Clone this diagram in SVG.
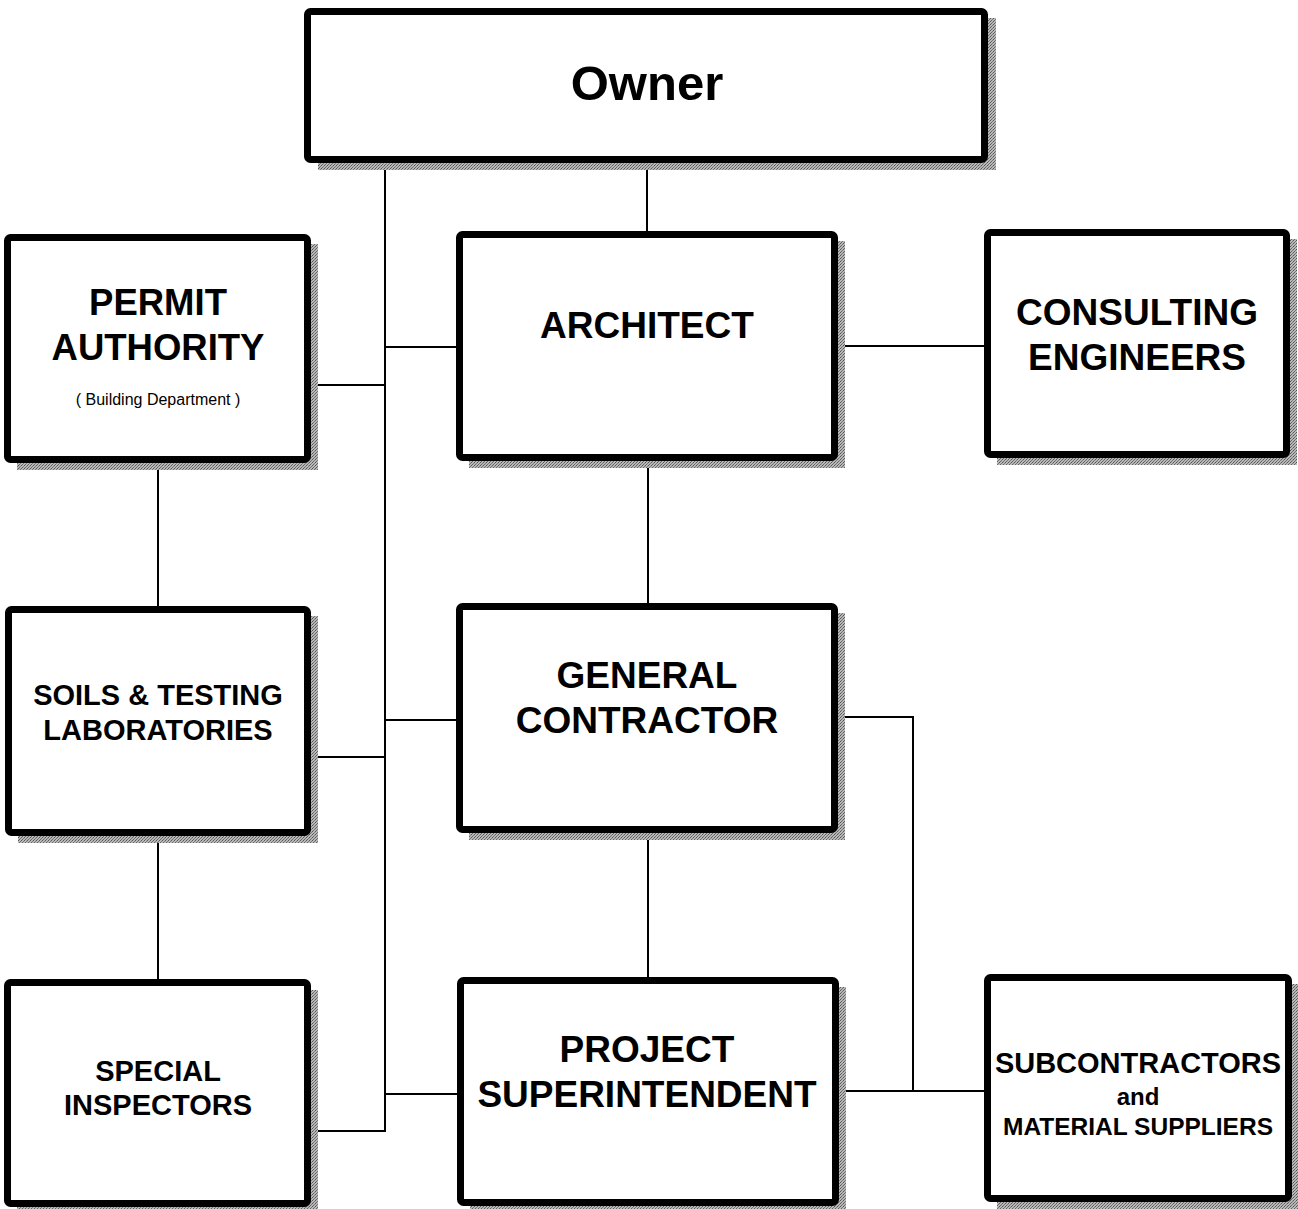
<svg xmlns="http://www.w3.org/2000/svg" width="1298" height="1209" viewBox="0 0 1298 1209">
<defs>
<pattern id="dots" width="3" height="3" patternUnits="userSpaceOnUse">
<rect width="3" height="3" fill="#b8b8b8"/>
<rect width="1" height="1" fill="#555"/>
<rect x="2" y="1" width="1" height="1" fill="#777"/>
<rect x="1" y="2" width="1" height="1" fill="#666"/>
</pattern>
</defs>
<style>
.box{fill:#fff;stroke:#000;stroke-width:7;}
.sh{fill:url(#dots);}
.t{font-family:"Liberation Sans",Arial,sans-serif;font-weight:bold;fill:#000;text-anchor:middle;}
.s{font-family:"Liberation Sans",Arial,sans-serif;fill:#000;text-anchor:middle;}
.c{stroke:#000;stroke-width:2;fill:none;}
</style>
<rect width="1298" height="1209" fill="#fff"/>
<g id="connectors">
<line class="c" x1="647" y1="160" x2="647" y2="232"/>
<line class="c" x1="385" y1="160" x2="385" y2="1132"/>
<line class="c" x1="385" y1="347" x2="457" y2="347"/>
<line class="c" x1="311" y1="385" x2="385" y2="385"/>
<line class="c" x1="838" y1="346" x2="984" y2="346"/>
<line class="c" x1="648" y1="460" x2="648" y2="604"/>
<line class="c" x1="158" y1="462" x2="158" y2="607"/>
<line class="c" x1="158" y1="835" x2="158" y2="982"/>
<line class="c" x1="385" y1="720" x2="457" y2="720"/>
<line class="c" x1="311" y1="757" x2="385" y2="757"/>
<line class="c" x1="648" y1="832" x2="648" y2="978"/>
<line class="c" x1="385" y1="1094" x2="457" y2="1094"/>
<line class="c" x1="311" y1="1131" x2="385" y2="1131"/>
<polyline class="c" points="838,717 913,717 913,1091"/>
<line class="c" x1="838" y1="1091" x2="985" y2="1091"/>
</g>
<g id="owner">
<rect class="sh" x="318" y="18" width="678" height="152"/>
<rect class="box" x="307.5" y="11.5" width="677" height="148" rx="3"/>
<text class="t" x="647" y="100" font-size="49">Owner</text>
</g>
<g id="permit">
<rect class="sh" x="17" y="244" width="301" height="226"/>
<rect class="box" x="7.5" y="237.5" width="300" height="222" rx="3"/>
<text class="t" x="158" y="315" font-size="36.5">PERMIT</text>
<text class="t" x="158" y="360" font-size="36.5">AUTHORITY</text>
<text class="s" x="158" y="405" font-size="16">( Building Department )</text>
</g>
<g id="architect">
<rect class="sh" x="469" y="241" width="376" height="227"/>
<rect class="box" x="459.5" y="234.5" width="375" height="223" rx="3"/>
<text class="t" x="647" y="338" font-size="37">ARCHITECT</text>
</g>
<g id="consulting">
<rect class="sh" x="997" y="239" width="300" height="226"/>
<rect class="box" x="987.5" y="232.5" width="299" height="222" rx="3"/>
<text class="t" x="1137" y="325" font-size="37">CONSULTING</text>
<text class="t" x="1137" y="370" font-size="37">ENGINEERS</text>
</g>
<g id="soils">
<rect class="sh" x="18" y="616" width="300" height="227"/>
<rect class="box" x="8.5" y="609.5" width="299" height="223" rx="3"/>
<text class="t" x="158" y="705" font-size="29">SOILS &amp; TESTING</text>
<text class="t" x="158" y="740" font-size="29">LABORATORIES</text>
</g>
<g id="general-contractor">
<rect class="sh" x="469" y="613" width="376" height="227"/>
<rect class="box" x="459.5" y="606.5" width="375" height="223" rx="3"/>
<text class="t" x="647" y="688" font-size="37">GENERAL</text>
<text class="t" x="647" y="733" font-size="37">CONTRACTOR</text>
</g>
<g id="special">
<rect class="sh" x="17" y="990" width="301" height="225"/>
<rect class="box" x="7.5" y="982.5" width="300" height="221" rx="3"/>
<text class="t" x="158" y="1081" font-size="29">SPECIAL</text>
<text class="t" x="158" y="1115" font-size="29">INSPECTORS</text>
</g>
<g id="superintendent">
<rect class="sh" x="470" y="987" width="376" height="226"/>
<rect class="box" x="460.5" y="980.5" width="375" height="222" rx="3"/>
<text class="t" x="647" y="1062" font-size="37">PROJECT</text>
<text class="t" x="647" y="1107" font-size="37">SUPERINTENDENT</text>
</g>
<g id="subcontractors">
<rect class="sh" x="997" y="984" width="302" height="225"/>
<rect class="box" x="987.5" y="977.5" width="301" height="221" rx="3"/>
<text class="t" x="1138" y="1073" font-size="29">SUBCONTRACTORS</text>
<text class="t" x="1138" y="1105" font-size="24">and</text>
<text class="t" x="1138" y="1135" font-size="24.5">MATERIAL SUPPLIERS</text>
</g>
</svg>
